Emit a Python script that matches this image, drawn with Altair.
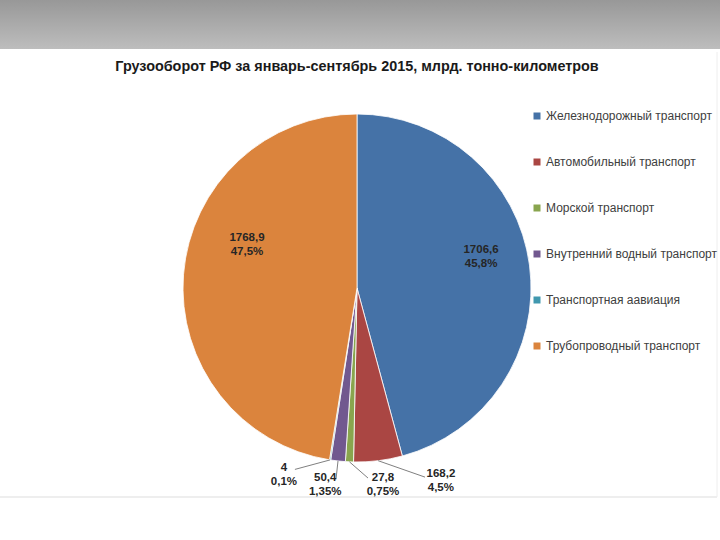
import math
import altair as alt
import pandas as pd

# ---------------- data ----------------
categories = [
    "Железнодорожный транспорт",
    "Автомобильный транспорт",
    "Морской транспорт",
    "Внутренний водный транспорт",
    "Транспортная аавиация",
    "Трубопроводный транспорт",
]
values = [1706.6, 168.2, 27.8, 50.4, 4, 1768.9]
value_labels = ["1706,6", "168,2", "27,8", "50,4", "4", "1768,9"]
percent_labels = ["45,8%", "4,5%", "0,75%", "1,35%", "0,1%", "47,5%"]
colors = ["#4572A7", "#AA4643", "#89A54E", "#71588F", "#4198AF", "#DB843D"]
title_text = "Грузооборот РФ за январь-сентябрь 2015, млрд. тонно-километров"

# ---------------- layout (not data) ----------------
CX, CY, R = 357, 288, 174
FONT = "Liberation Sans, Arial, sans-serif"
label_shift_deg = [-6.5, -16.5, -10.0, 2.9, 12.4, 16.6]
label_radius = [0.735, 1.21, 1.142, 1.147, 1.156, 0.678]
has_leader = [False, True, True, True, True, False]
leader_end_shift = [0, -12.8, -5.8, 0.0, 10.0, 0]
leader_end_radius = [1, 1.155, 1.094, 1.099, 1.102, 1]

# ---------------- derived table ----------------
total = sum(values)
rows = []
cum = 0.0
for i, (c, v) in enumerate(zip(categories, values)):
    mid = (cum + v / 2) / total * 360.0
    cum += v
    la = math.radians(mid + label_shift_deg[i])
    ma = math.radians(mid)
    ea = math.radians(mid + leader_end_shift[i])
    rows.append(dict(
        idx=i, category=c, value=v,
        vlabel=value_labels[i], plabel=percent_labels[i],
        lx=label_radius[i] * math.sin(la), ly=-label_radius[i] * math.cos(la),
        sx=math.sin(ma), sy=-math.cos(ma),
        ex=leader_end_radius[i] * math.sin(ea), ey=-leader_end_radius[i] * math.cos(ea),
        leader=has_leader[i],
    ))
df = pd.DataFrame(rows)
one = pd.DataFrame({"k": [0]})

xs = alt.Scale(domain=[-1, 1], range=[CX - R, CX + R], nice=False, zero=False)
ys = alt.Scale(domain=[-1, 1], range=[CY - R, CY + R], nice=False, zero=False)

band = alt.Chart(one).mark_rect(
    color=alt.Gradient(
        gradient="linear", x1=0, x2=0, y1=0, y2=1,
        stops=[alt.GradientStop(color="#989898", offset=0),
               alt.GradientStop(color="#bdbdbd", offset=1)],
    )
).encode(x=alt.value(0), x2=alt.value(720), y=alt.value(0), y2=alt.value(49))

bottom_line = alt.Chart(one).mark_rule(color="#e8e8e8", strokeWidth=1.5).encode(
    x=alt.value(0), x2=alt.value(717), y=alt.value(497))
right_line = alt.Chart(one).mark_rule(color="#eeeeee", strokeWidth=1).encode(
    x=alt.value(717), y=alt.value(52), y2=alt.value(497))

title = alt.Chart(one).mark_text(
    text=title_text, font=FONT, fontSize=14.4, fontWeight="bold", color="#1a1a1a",
    align="center", baseline="middle"
).encode(x=alt.value(357), y=alt.value(67))

base = alt.Chart(df)

arcs = base.mark_arc(outerRadius=R, stroke="white", strokeWidth=0.8).encode(
    theta=alt.Theta("value:Q", stack=True),
    order=alt.Order("idx:Q"),
    color=alt.Color(
        "category:N",
        scale=alt.Scale(domain=categories, range=colors),
        sort=categories,
        legend=alt.Legend(
            orient="none", legendX=531, legendY=110, title=None,
            symbolType="square", symbolSize=49, symbolStrokeWidth=0,
            labelFont=FONT, labelFontSize=12, labelColor="#404040",
            rowPadding=34, labelOffset=3, labelLimit=0,
        ),
    ),
    x=alt.value(CX), y=alt.value(CY),
)

leaders = base.transform_filter("datum.leader").mark_rule(
    color="#808080", strokeWidth=1
).encode(
    x=alt.X("sx:Q", scale=xs, axis=None), y=alt.Y("sy:Q", scale=ys, axis=None),
    x2="ex:Q", y2="ey:Q",
)

txt_kw = dict(font=FONT, fontSize=11.5, fontWeight="bold", color="#262626",
              align="center", baseline="middle")
vtext = base.mark_text(dy=-7, **txt_kw).encode(
    x=alt.X("lx:Q", scale=xs, axis=None), y=alt.Y("ly:Q", scale=ys, axis=None),
    text="vlabel:N")
ptext = base.mark_text(dy=7, **txt_kw).encode(
    x=alt.X("lx:Q", scale=xs, axis=None), y=alt.Y("ly:Q", scale=ys, axis=None),
    text="plabel:N")

chart = alt.layer(band, bottom_line, right_line, title, arcs, leaders, vtext, ptext).properties(
    width=720, height=540, padding=0,
    autosize=alt.AutoSizeParams(type="none"),
    background="white",
).configure_view(stroke=None)

chart.save("out.html", embed_options={"renderer": "svg", "actions": False})
